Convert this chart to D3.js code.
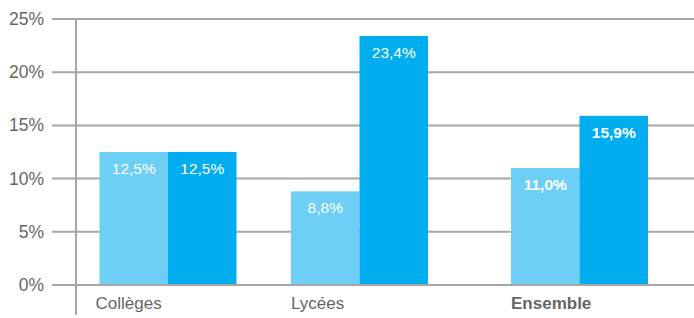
<!DOCTYPE html>
<html>
<head>
<meta charset="utf-8">
<script src="https://cdn.jsdelivr.net/npm/d3@7"></script>
<style>
  body { margin:0; background:#fff; }
  svg text { font-family:"Liberation Sans", Arial, sans-serif; }
</style>
</head>
<body>
<svg id="chart" width="694" height="318"></svg>
<script>
// donnees
var categories = ["Collèges", "Lycées", "Ensemble"];
var serieA = [12.5, 8.8, 11.0];
var serieB = [12.5, 23.4, 15.9];
var ticks = [0, 5, 10, 15, 20, 25];
var gras = [false, false, true];

var svg = d3.select("#chart");
var W = 694, H = 318;

var y = d3.scaleLinear().domain([0, 25]).range([285, 19]);
// centres des groupes (ensemble un peu decale)
var x = d3.scaleLinear().domain([0, 1, 2]).range([168, 359.5, 579.5]);
var bw = 68.5;
var fmt = function(v) { return d3.format(".1f")(v).replace(".", ",") + "%"; };

// grille
svg.selectAll("line.grid")
  .data(ticks).enter()
  .append("line")
  .attr("class", "grid")
  .attr("x1", 52).attr("x2", W)
  .attr("y1", function(d) { return y(d); })
  .attr("y2", function(d) { return y(d); })
  .attr("stroke", "#a6a6a8")
  .attr("stroke-width", 2);

svg.selectAll("text.tick")
  .data(ticks).enter()
  .append("text")
  .attr("class", "tick")
  .attr("x", 44)
  .attr("y", function(d) { return y(d) + 6; })
  .attr("text-anchor", "end")
  .attr("fill", "#666")
  .attr("font-size", 17.5)
  .text(function(d) { return d + "%"; });

// barres
var groupes = svg.selectAll("g.groupe")
  .data(categories).enter()
  .append("g").attr("class", "groupe");

groupes.append("rect")
  .attr("x", function(d, i) { return x(i) - bw; })
  .attr("y", function(d, i) { return y(serieA[i]); })
  .attr("width", bw)
  .attr("height", function(d, i) { return y(0) - y(serieA[i]) - 1; })
  .attr("fill", "#6dcff6");

groupes.append("rect")
  .attr("x", function(d, i) { return x(i); })
  .attr("y", function(d, i) { return y(serieB[i]); })
  .attr("width", bw)
  .attr("height", function(d, i) { return y(0) - y(serieB[i]) - 1; })
  .attr("fill", "#00aeef");

groupes.append("text")
  .attr("x", function(d, i) { return x(i) - bw / 2; })
  .attr("y", function(d, i) { return y(serieA[i]) + 22; })
  .attr("text-anchor", "middle")
  .attr("fill", "#fff")
  .attr("font-size", 15.5)
  .attr("font-weight", function(d, i) { return gras[i] ? 700 : 400; })
  .text(function(d, i) { return fmt(serieA[i]); });

groupes.append("text")
  .attr("x", function(d, i) { return x(i) + bw / 2; })
  .attr("y", function(d, i) { return y(serieB[i]) + 22; })
  .attr("text-anchor", "middle")
  .attr("fill", "#fff")
  .attr("font-size", 15.5)
  .attr("font-weight", function(d, i) { return gras[i] ? 700 : 400; })
  .text(function(d, i) { return fmt(serieB[i]); });

groupes.append("text")
  .attr("x", function(d, i) { return x(i) - bw - (i == 0 ? 4 : 0); })
  .attr("y", 309)
  .attr("fill", "#666")
  .attr("font-size", 17)
  .attr("font-weight", function(d, i) { return gras[i] ? 700 : 400; })
  .text(function(d) { return d; });

// axe vertical
svg.append("line")
  .attr("x1", 76).attr("x2", 76)
  .attr("y1", y(25)).attr("y2", 315)
  .attr("stroke", "#a6a6a8")
  .attr("stroke-width", 2);
</script>
</body>
</html>
